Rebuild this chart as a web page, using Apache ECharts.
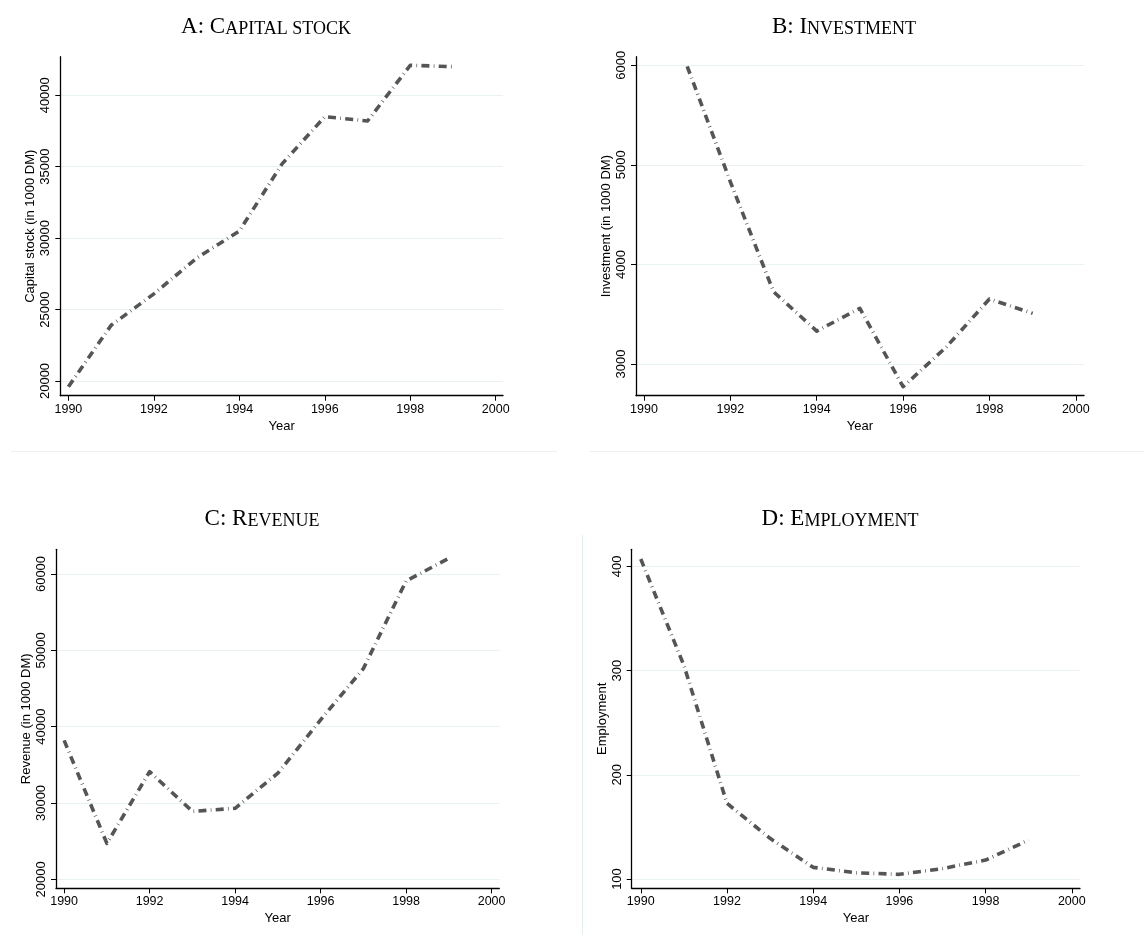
<!DOCTYPE html>
<html>
<head>
<meta charset="utf-8">
<script src="https://cdn.jsdelivr.net/npm/echarts@6/dist/echarts.min.js"></script>
<style>
html,body{margin:0;padding:0;background:#fff;}
#chart{width:1144px;height:938px;}
</style>
</head>
<body>
<div id="chart"></div>
<script>
// ---- data ----
const years = [1990, 1991, 1992, 1993, 1994, 1995, 1996, 1997, 1998, 1999];
const capitalStock = [19600, 23900, 26100, 28600, 30500, 35200, 38500, 38200, 42100, 42000];
const investment = [null, 5990, 4830, 3726, 3331, 3559, 2772, 3170, 3653, 3509];
const revenue = [38200, 24700, 34100, 28900, 29300, 33900, 40900, 47600, 59100, 62050];
const employment = [407, 305, 172.6, 139, 111.2, 106, 104.5, 110, 118.2, 137.4];

const xTicks = [1990, 1992, 1994, 1996, 1998, 2000];
const yTicksA = [20000, 25000, 30000, 35000, 40000];
const yTicksB = [3000, 4000, 5000, 6000];
const yTicksC = [20000, 30000, 40000, 50000, 60000];
const yTicksD = [100, 200, 300, 400];

const titles = [
  {big1: 'A: C', small: 'APITAL STOCK'},
  {big1: 'B: I', small: 'NVESTMENT'},
  {big1: 'C: R', small: 'EVENUE'},
  {big1: 'D: E', small: 'MPLOYMENT'}
];
const yNames = ['Capital stock (in 1000 DM)', 'Investment (in 1000 DM)', 'Revenue (in 1000 DM)', 'Employment'];

// ---- layout ----
const grids = [
  {left: 60.3, top: 56.7, width: 442.7, height: 339},
  {left: 636, top: 56.7, width: 448, height: 339},
  {left: 56, top: 549.3, width: 443.3, height: 339},
  {left: 631.7, top: 549.3, width: 448.3, height: 339}
];
const xRanges = [[1989.81, 2000.17], [1989.815, 2000.19], [1989.81, 2000.18], [1989.79, 2000.19]];
const yRanges = [[18970, 42700], [2682, 6086], [18821, 63236], [91.1, 416.3]];
const yTicks = [yTicksA, yTicksB, yTicksC, yTicksD];
const seriesVals = [capitalStock, investment, revenue, employment];
const titlePos = [[266, 38], [844, 38], [262, 530], [840, 530]];

const labelFont = 'Liberation Sans, Arial, sans-serif';

const option = {
  backgroundColor: '#ffffff',
  animation: false,
  grid: grids.map(g => Object.assign({containLabel: false}, g)),
  xAxis: grids.map((g, i) => ({
    type: 'value', gridIndex: i,
    min: xRanges[i][0], max: xRanges[i][1],
    name: 'Year', nameLocation: 'middle', nameGap: 24,
    nameTextStyle: {fontFamily: labelFont, fontSize: 13, color: '#000'},
    axisLine: {show: true, onZero: false, lineStyle: {color: '#000', width: 1.3}},
    axisTick: {show: true, length: 5, customValues: xTicks, lineStyle: {color: '#000', width: 1}},
    axisLabel: {customValues: xTicks, margin: 7, fontFamily: labelFont, fontSize: 12.5, color: '#000',
      formatter: v => String(v)},
    splitLine: {show: false}
  })),
  yAxis: grids.map((g, i) => ({
    type: 'value', gridIndex: i,
    min: yRanges[i][0], max: yRanges[i][1],
    name: yNames[i], nameLocation: 'middle', nameGap: 23, nameRotate: 90,
    nameTextStyle: {fontFamily: labelFont, fontSize: 13, color: '#000'},
    axisLine: {show: true, onZero: false, lineStyle: {color: '#000', width: 1.3}},
    axisTick: {show: true, length: 5, customValues: yTicks[i], lineStyle: {color: '#000', width: 1}},
    axisLabel: {customValues: yTicks[i], rotate: 90, margin: 8, fontFamily: labelFont, fontSize: 13, color: '#000',
      formatter: v => String(v)},
    splitLine: {show: true, lineStyle: {color: '#eaf1f1', width: 1}}
  })),
  series: seriesVals.map((vals, i) => ({
    type: 'line', xAxisIndex: i, yAxisIndex: i,
    data: years.map((y, k) => [y, vals[k]]).filter(d => d[1] !== null),
    showSymbol: false, symbol: 'none',
    lineStyle: {color: '#555555', width: 3.6, type: [8, 4.3, 0.7, 4.3], cap: 'butt', join: 'round'},
    silent: true
  })),
  graphic: [
    {type: 'line', shape: {x1: 11, y1: 451.5, x2: 557, y2: 451.5}, style: {stroke: '#eeeeee', lineWidth: 1}, silent: true},
    {type: 'line', shape: {x1: 590, y1: 451.5, x2: 1144, y2: 451.5}, style: {stroke: '#eeeeee', lineWidth: 1}, silent: true},
    {type: 'line', shape: {x1: 582.5, y1: 535, x2: 582.5, y2: 935}, style: {stroke: '#e6eeee', lineWidth: 1}, silent: true}
  ].concat(titles.map((t, i) => ({
    type: 'text', x: titlePos[i][0], y: titlePos[i][1], silent: true,
    style: {
      text: '{b|' + t.big1 + '}{s|' + t.small + '}',
      align: 'center', verticalAlign: 'bottom',
      rich: {
        b: {fontFamily: 'Liberation Serif, serif', fontSize: 23, fill: '#000', verticalAlign: 'bottom', lineHeight: 26},
        s: {fontFamily: 'Liberation Serif, serif', fontSize: 18, fill: '#000', verticalAlign: 'bottom', lineHeight: 26}
      }
    }
  })))
};

const chart = echarts.init(document.getElementById('chart'), null, {renderer: 'canvas'});
chart.setOption(option);
</script>
</body>
</html>
